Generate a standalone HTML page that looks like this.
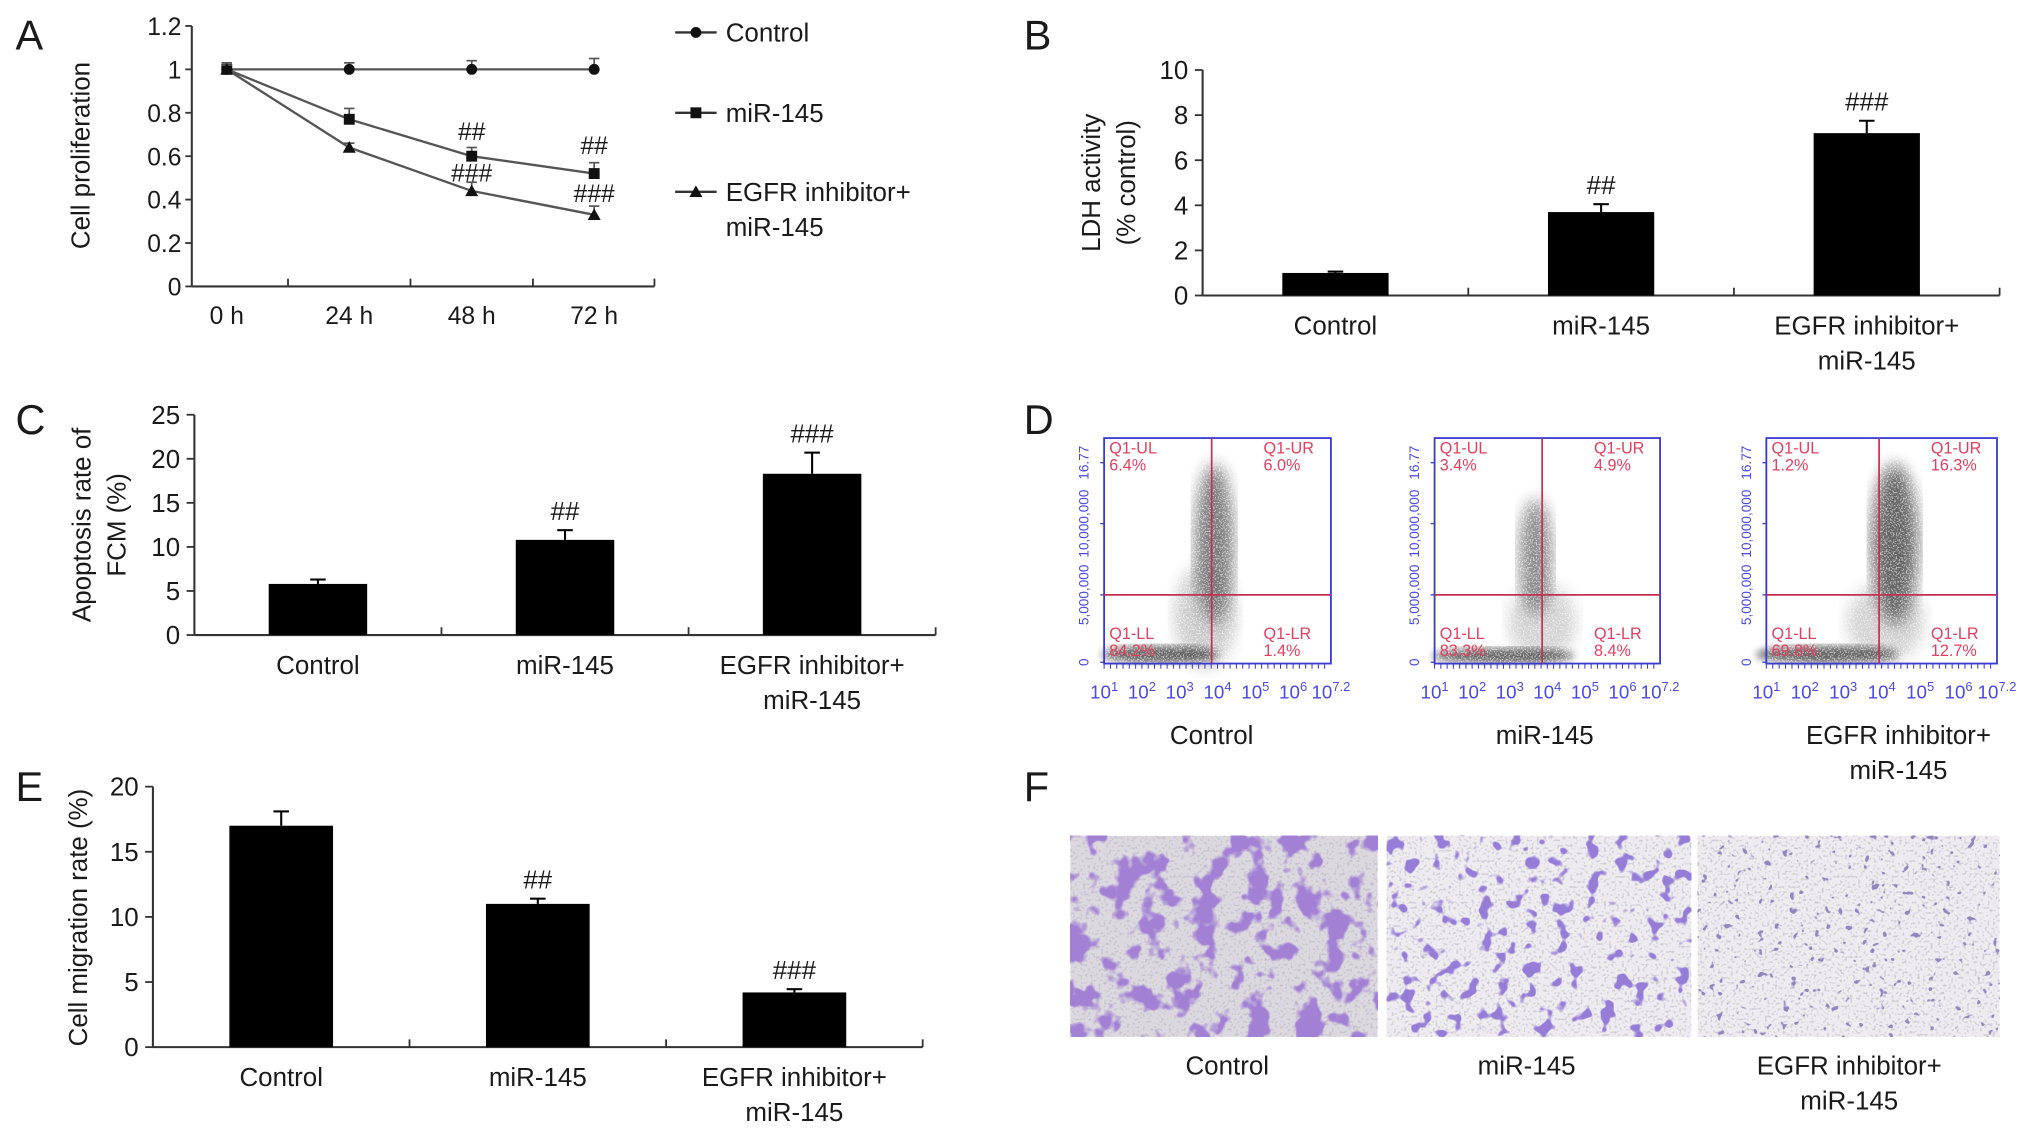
<!DOCTYPE html>
<html><head><meta charset="utf-8">
<style>
html,body{margin:0;padding:0;background:#fff;}
svg{display:block;font-family:"Liberation Sans",Arial,sans-serif;}
</style></head>
<body>
<svg id="fig" xmlns="http://www.w3.org/2000/svg" width="2032" height="1134" viewBox="0 0 1568 875">
<defs>
  <filter id="stainA" x="0" y="0" width="1" height="1">
    <feTurbulence type="fractalNoise" baseFrequency="0.05" numOctaves="3" seed="4"/>
    <feColorMatrix type="matrix" values="0 0 0 0 0.36  0 0 0 0 0.22  0 0 0 0 0.66  11 0 0 0 -5.7"/>
  </filter>
  <filter id="stainB" x="0" y="0" width="1" height="1">
    <feTurbulence type="fractalNoise" baseFrequency="0.085" numOctaves="2" seed="9"/>
    <feColorMatrix type="matrix" values="0 0 0 0 0.30  0 0 0 0 0.20  0 0 0 0 0.68  14 0 0 0 -8.3"/>
  </filter>
  <filter id="stainC" x="0" y="0" width="1" height="1">
    <feTurbulence type="fractalNoise" baseFrequency="0.16" numOctaves="2" seed="2"/>
    <feColorMatrix type="matrix" values="0 0 0 0 0.28  0 0 0 0 0.24  0 0 0 0 0.50  16 0 0 0 -10.8"/>
  </filter>
  <filter id="speck" x="0" y="0" width="1" height="1">
    <feTurbulence type="fractalNoise" baseFrequency="0.5" numOctaves="1" seed="5"/>
    <feColorMatrix type="matrix" values="0 0 0 0 0.4  0 0 0 0 0.4  0 0 0 0 0.45  6 0 0 0 -3.2"/>
  </filter>
  <filter id="dots" x="0" y="0" width="1" height="1">
    <feTurbulence type="fractalNoise" baseFrequency="0.9" numOctaves="1" seed="7"/>
    <feColorMatrix type="matrix" values="0 0 0 0 1  0 0 0 0 1  0 0 0 0 1  9 0 0 0 -4.6"/>
  </filter>
  <filter id="blur"><feGaussianBlur stdDeviation="6"/></filter>
  <filter id="blur2"><feGaussianBlur stdDeviation="3"/></filter>
</defs>
<g id="root"></g>
</svg>
<script>
// ---- Panel A data ----
const aCats = ['0 h','24 h','48 h','72 h'];
const aControl = [1, 1, 1, 1];
const aControlErr = [0.03, 0.03, 0.04, 0.05];
const aMir = [1, 0.77, 0.6, 0.52];
const aMirErr = [0.03, 0.05, 0.04, 0.05];
const aEgfr = [1, 0.64, 0.44, 0.33];
const aEgfrErr = [0.02, 0.02, 0.04, 0.04];
const aTicks = ['0','0.2','0.4','0.6','0.8','1','1.2'];
// ---- Panel B ----
const bCats = [['Control'],['miR-145'],['EGFR inhibitor+','miR-145']];
const bVals = [1.0, 3.7, 7.2];
const bErr = [0.06, 0.35, 0.55];
const bMarks = ['', '##', '###'];
const bTicks = ['0','2','4','6','8','10'];
// ---- Panel C ----
const cVals = [5.8, 10.8, 18.3];
const cErr = [0.5, 1.1, 2.4];
const cMarks = ['', '##', '###'];
const cTicks = ['0','5','10','15','20','25'];
// ---- Panel E ----
const eVals = [17.0, 11.0, 4.2];
const eErr = [1.1, 0.4, 0.25];
const eMarks = ['', '##', '###'];
const eTicks = ['0','5','10','15','20'];
// ---- Panel D ----
const dQuad = [['6.4%','6.0%','84.2%','1.4%'],['3.4%','4.9%','83.3%','8.4%'],['1.2%','16.3%','69.8%','12.7%']];

const NS='http://www.w3.org/2000/svg';
const root=document.getElementById('root');
function mk(tag,attrs,parent,txt){const e=document.createElementNS(NS,tag);for(const k in attrs)e.setAttribute(k,attrs[k]);if(txt!==undefined)e.textContent=txt;(parent||root).appendChild(e);return e;}
function txt(x,y,s,size,anchor,parent,fill){return mk('text',{x:x,y:y,'font-size':size,'text-anchor':anchor||'middle',fill:fill||'#1a1a1a'},parent,s);}

[['A',12,38],['B',790,38],['C',12,335],['D',790,335],['E',12,618],['F',790,618]].forEach(p=>{
  const t=txt(p[1],p[2],p[0],32,'start');
  
  
});

// ===== Panel A =====
(function(){
  const g=mk('g',{});
  
  
  const x0=148,x1=505,yTop=20,yBot=221,vmax=1.2;
  const y=v=>yBot-(v/vmax)*(yBot-yTop);
  const x=i=>175+94.5*i;
  mk('line',{x1:x0,y1:yTop,x2:x0,y2:yBot,stroke:'#333','stroke-width':1.6},g);
  mk('line',{x1:x0,y1:yBot,x2:x1,y2:yBot,stroke:'#333','stroke-width':1.6},g);
  aTicks.forEach((t,i)=>{const v=parseFloat(t);mk('line',{x1:x0-5,y1:y(v),x2:x0,y2:y(v),stroke:'#333','stroke-width':1.4},g);txt(x0-8,y(v)+7,t,19,'end',g);});
  aCats.forEach((c,i)=>{txt(x(i),250,c,19,'middle',g);});
  [1,2,3].forEach(i=>{const bx=x(i)-47.25;mk('line',{x1:bx,y1:yBot,x2:bx,y2:yBot-6,stroke:'#333','stroke-width':1.4},g);});
  mk('line',{x1:x1,y1:yBot,x2:x1,y2:yBot-6,stroke:'#333','stroke-width':1.4},g);
  const yt=txt(0,0,'Cell proliferation',20,'middle',g);yt.setAttribute('transform','translate(69,120) rotate(-90)');
  
  
  const series=[[aControl,aControlErr,'circle'],[aMir,aMirErr,'square'],[aEgfr,aEgfrErr,'triangle']];
  series.forEach(s=>{
    const pts=s[0].map((v,i)=>x(i)+','+y(v)).join(' ');
    const pl=mk('polyline',{points:pts,fill:'none',stroke:'#555','stroke-width':1.8},g);
    
    
    s[0].forEach((v,i)=>{
      const yt2=y(v+s[1][i]);
      mk('line',{x1:x(i),y1:y(v),x2:x(i),y2:yt2,stroke:'#555','stroke-width':1.3},g);
      mk('line',{x1:x(i)-4,y1:yt2,x2:x(i)+4,y2:yt2,stroke:'#555','stroke-width':1.3},g);
      drawMarker(g,s[2],x(i),y(v));
    });
  });
  txt(x(2),108,'##',19,'middle',g);txt(x(3),119,'##',19,'middle',g);
  txt(x(2),140,'###',19,'middle',g);txt(x(3),156,'###',19,'middle',g);
  const lg=[['Control','circle',25],['miR-145','square',87],['EGFR inhibitor+','triangle',148]];
  lg.forEach(l=>{
    const le=mk('g',{},g);
    
    
    mk('line',{x1:521,y1:l[2],x2:553,y2:l[2],stroke:'#333','stroke-width':1.8},le);
    drawMarker(le,l[1],537,l[2]);
    txt(560,l[2]+7,l[0],20,'start',le);
  });
  txt(560,182,'miR-145',20,'start',g);
})();
function drawMarker(g,type,cx,cy){
  if(type==='circle')mk('circle',{cx:cx,cy:cy,r:4.2,fill:'#111'},g);
  else if(type==='square')mk('rect',{x:cx-4.2,y:cy-4.2,width:8.4,height:8.4,fill:'#111'},g);
  else mk('polygon',{points:(cx)+','+(cy-5)+' '+(cx+5)+','+(cy+4)+' '+(cx-5)+','+(cy+4),fill:'#111'},g);
}

function barChart(cfg){
  const g=mk('g',{});
  
  
  const vmax=parseFloat(cfg.ticks[cfg.ticks.length-1]);
  const y=v=>cfg.yBot-(v/vmax)*(cfg.yBot-cfg.yTop);
  const bw=(cfg.x1-cfg.x0)/3;
  const cx=i=>cfg.x0+bw*(i+0.5)+cfg.shift;
  mk('line',{x1:cfg.x0,y1:cfg.yTop,x2:cfg.x0,y2:cfg.yBot,stroke:'#333','stroke-width':1.6},g);
  mk('line',{x1:cfg.x0,y1:cfg.yBot,x2:cfg.x1,y2:cfg.yBot,stroke:'#333','stroke-width':1.6},g);
  cfg.ticks.forEach(t=>{const v=parseFloat(t);mk('line',{x1:cfg.x0-6,y1:y(v),x2:cfg.x0,y2:y(v),stroke:'#333','stroke-width':1.4},g);txt(cfg.x0-11,y(v)+7,t,20,'end',g);});
  [1,2,3].forEach(i=>{const bx=cfg.x0+bw*i;mk('line',{x1:bx,y1:cfg.yBot,x2:bx,y2:cfg.yBot-6,stroke:'#333','stroke-width':1.4},g);});
  cfg.vals.forEach((v,i)=>{
    const r=mk('rect',{x:cx(i)-cfg.w/2,y:y(v),width:cfg.w,height:cfg.yBot-y(v),fill:'#000'},g);
    
    
    const et=y(v+cfg.err[i]);
    mk('line',{x1:cx(i),y1:y(v),x2:cx(i),y2:et,stroke:'#000','stroke-width':1.6},g);
    mk('line',{x1:cx(i)-6,y1:et,x2:cx(i)+6,y2:et,stroke:'#000','stroke-width':1.6},g);
    if(cfg.marks[i])txt(cx(i),et-8,cfg.marks[i],20,'middle',g);
    bCats[i].forEach((l,j)=>txt(cx(i),cfg.yBot+30+j*27,l,20,'middle',g));
  });
  cfg.title.forEach((t,j)=>{const tt=txt(0,0,t,20,'middle',g);tt.setAttribute('transform','translate('+(cfg.tx+j*27)+','+cfg.ty+') rotate(-90)');});
}
barChart({name:'panel-b-ldh-bar-chart',x0:928,x1:1543,yTop:54,yBot:228,ticks:bTicks,vals:bVals,err:bErr,marks:bMarks,w:82,shift:0,title:['LDH activity','(% control)'],tx:849,ty:141});
barChart({name:'panel-c-apoptosis-bar-chart',x0:150,x1:722,yTop:320,yBot:490,ticks:cTicks,vals:cVals,err:cErr,marks:cMarks,w:76,shift:0,title:['Apoptosis rate of','FCM (%)'],tx:70,ty:405});
barChart({name:'panel-e-migration-bar-chart',x0:118,x1:712,yTop:607,yBot:808,ticks:eTicks,vals:eVals,err:eErr,marks:eMarks,w:80,shift:0,title:['Cell migration rate (%)'],tx:67,ty:708});

// ===== Panel D =====
(function(){
  const boxes=[[852,1027,935],[1107,1281,1190],[1363,1541,1450]];
  const names=[['Control'],['miR-145'],['EGFR inhibitor+','miR-145']];
  boxes.forEach((b,k)=>{
    const g=mk('g',{});
    
    
    const top=338,bot=512,hy=459;
    const cg=mk('g',{opacity:0.8},g);
    const vx=b[2];
    if(k===0){
      mk('ellipse',{cx:vx+2,cy:420,rx:15,ry:62,fill:'#222',filter:'url(#blur)',opacity:0.75},cg);
      mk('ellipse',{cx:vx-5,cy:475,rx:24,ry:40,fill:'#444',filter:'url(#blur)',opacity:0.35},cg);
      mk('ellipse',{cx:895,cy:505,rx:45,ry:7,fill:'#111',filter:'url(#blur2)',opacity:0.8},cg);
    }else if(k===1){
      mk('ellipse',{cx:vx-5,cy:430,rx:13,ry:45,fill:'#222',filter:'url(#blur)',opacity:0.65},cg);
      mk('ellipse',{cx:vx,cy:480,rx:26,ry:30,fill:'#444',filter:'url(#blur)',opacity:0.3},cg);
      mk('ellipse',{cx:1160,cy:506,rx:55,ry:6,fill:'#111',filter:'url(#blur2)',opacity:0.8},cg);
    }else{
      mk('ellipse',{cx:vx+12,cy:420,rx:18,ry:62,fill:'#111',filter:'url(#blur)',opacity:0.8},cg);
      mk('ellipse',{cx:vx+5,cy:480,rx:30,ry:30,fill:'#444',filter:'url(#blur)',opacity:0.3},cg);
      mk('ellipse',{cx:1410,cy:505,rx:55,ry:7,fill:'#111',filter:'url(#blur2)',opacity:0.8},cg);
    }
    mk('rect',{x:b[0],y:top,width:b[1]-b[0],height:bot-top,fill:'#fff',filter:'url(#dots)',opacity:0.55},g);
    mk('rect',{x:b[0],y:top,width:b[1]-b[0],height:bot-top,fill:'none',stroke:'#3a3ad0','stroke-width':1.4},g);
    mk('line',{x1:b[0],y1:hy,x2:b[1],y2:hy,stroke:'#c03050','stroke-width':1.3},g);
    mk('line',{x1:vx,y1:top,x2:vx,y2:bot,stroke:'#c03050','stroke-width':1.3},g);
    [['16.77',357],['10,000,000',404],['5,000,000',459],['0',511]].forEach(l=>{
      const t=txt(0,0,l[0],10.5,'middle',g,'#4a4ae0');t.setAttribute('transform','translate('+(b[0]-12)+','+l[1]+') rotate(-90)');
      mk('line',{x1:b[0]-3,y1:l[1],x2:b[0],y2:l[1],stroke:'#3a3ad0'},g);
    });
    const sup=['1','2','3','4','5','6','7.2'];
    const w=(b[1]-b[0]);
    sup.forEach((s,i)=>{
      const xx=b[0]+w*i/6;
      const t=mk('text',{x:xx,y:539,'font-size':14.5,'text-anchor':'middle',fill:'#4a4ae0'},g);
      const a=document.createElementNS(NS,'tspan');a.textContent='10';t.appendChild(a);
      const c=document.createElementNS(NS,'tspan');c.setAttribute('dy','-6');c.setAttribute('font-size','10');c.textContent=s;t.appendChild(c);
    });
    for(let i=0;i<36;i++){const xx=b[0]+w*i/36;mk('line',{x1:xx,y1:bot,x2:xx,y2:bot+4,stroke:'#3a3ad0','stroke-width':0.8},g);}
    const q=dQuad[k];
    const rc='#e04060';
    txt(b[0]+4,350,'Q1-UL',12.5,'start',g,rc);txt(b[0]+4,363,q[0],12.5,'start',g,rc);
    txt(vx+40,350,'Q1-UR',12.5,'start',g,rc);txt(vx+40,363,q[1],12.5,'start',g,rc);
    txt(b[0]+4,493,'Q1-LL',12.5,'start',g,rc);txt(b[0]+4,506,q[2],12.5,'start',g,rc);
    txt(vx+40,493,'Q1-LR',12.5,'start',g,rc);txt(vx+40,506,q[3],12.5,'start',g,rc);
    const cxl=[935,1192,1465][k];
    names[k].forEach((n,j)=>txt(cxl,574+j*27,n,20,'middle',g));
  });
})();

// ===== Panel F =====
(function(){
  const imgs=[[826,1063,'stainA'],[1070,1305,'stainB'],[1310,1543,'stainC']];
  const names=[['Control'],['miR-145'],['EGFR inhibitor+','miR-145']];
  const cx=[947,1178,1427];
  imgs.forEach((m,k)=>{
    const g=mk('g',{});
    
    
    mk('rect',{x:m[0],y:645,width:m[1]-m[0],height:155,fill:k===0?'#dcd8e0':'#eeecf0'},g);
    mk('rect',{x:m[0],y:645,width:m[1]-m[0],height:155,fill:'#000',filter:'url(#speck)',opacity:0.45},g);
    mk('rect',{x:m[0],y:645,width:m[1]-m[0],height:155,fill:'#000',filter:'url('+'#'+m[2]+')'},g);
    names[k].forEach((n,j)=>txt(cx[k],829+j*27,n,20,'middle',g));
  });
})();
</script>
</body></html>
